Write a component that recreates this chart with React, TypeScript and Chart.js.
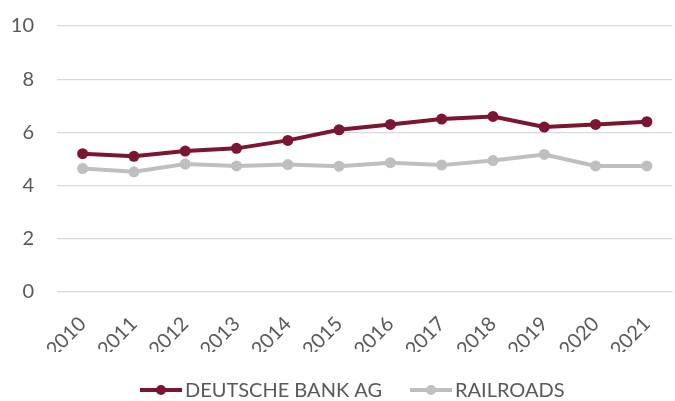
import React, { useEffect, useRef } from "react";
import { Chart, registerables } from "chart.js";

Chart.register(...registerables);

const years = ["2010", "2011", "2012", "2013", "2014", "2015", "2016", "2017", "2018", "2019", "2020", "2021"];
const deutscheBank = [5.2, 5.1, 5.3, 5.4, 5.7, 6.1, 6.3, 6.5, 6.6, 6.2, 6.3, 6.4];
const railroads = [4.64, 4.52, 4.81, 4.74, 4.79, 4.73, 4.86, 4.77, 4.94, 5.17, 4.74, 4.74];
const seriesNames = ["DEUTSCHE BANK AG", "RAILROADS"];
const seriesColors = ["#7B1530", "#BFBFBF"];
const yTicks = [0, 2, 4, 6, 8, 10];

const FONT = "Lato, 'Open Sans', sans-serif";
const TEXT = "#595959";
const FS = 20;

const legendPlugin = {
  id: "excelLegend",
  afterDraw(chart: any) {
    const ctx = chart.ctx;
    ctx.save();
    ctx.font = `${FS}px ${FONT}`;
    ctx.textBaseline = "middle";
    ctx.textAlign = "left";
    const y = 390;
    const lineW = 42;
    const starts = [140, 410];
    seriesNames.forEach((name, i) => {
      const x = starts[i];
      ctx.strokeStyle = seriesColors[i];
      ctx.lineWidth = 4;
      ctx.beginPath();
      ctx.moveTo(x, y);
      ctx.lineTo(x + lineW, y);
      ctx.stroke();
      ctx.fillStyle = seriesColors[i];
      ctx.beginPath();
      ctx.arc(x + lineW / 2, y, 5, 0, Math.PI * 2);
      ctx.fill();
      ctx.fillStyle = TEXT;
      ctx.fillText(name, x + lineW + 3, y + 1);
    });
    ctx.restore();
  },
};

export default function App() {
  const ref = useRef<HTMLCanvasElement | null>(null);
  useEffect(() => {
    document.body.style.margin = "0";
    if (!ref.current) return;
    const chart = new Chart(ref.current, {
      type: "line",
      data: {
        labels: years,
        datasets: [
          {
            label: seriesNames[1],
            data: railroads,
            borderColor: seriesColors[1],
            backgroundColor: seriesColors[1],
            borderWidth: 4,
            pointRadius: 5.5,
            pointHoverRadius: 5.5,
            pointBorderWidth: 0,
          },
          {
            label: seriesNames[0],
            data: deutscheBank,
            borderColor: seriesColors[0],
            backgroundColor: seriesColors[0],
            borderWidth: 4,
            pointRadius: 5.5,
            pointHoverRadius: 5.5,
            pointBorderWidth: 0,
          },
        ],
      },
      options: {
        animation: false,
        responsive: false,
        layout: { padding: { top: 26, bottom: 49, left: 0, right: 0 } },
        plugins: { legend: { display: false }, tooltip: { enabled: false } },
        scales: {
          x: {
            offset: true,
            grid: { display: false, drawTicks: false },
            border: { display: false },
            ticks: {
              color: TEXT,
              font: { family: FONT, size: FS },
              minRotation: 45,
              maxRotation: 45,
              padding: 20,
            },
            afterFit(scale: any) {
              scale.height = 60;
              scale.paddingLeft = 0;
              scale.paddingRight = 0;
            },
          },
          y: {
            min: 0,
            max: 10,
            afterBuildTicks(scale: any) {
              scale.ticks = yTicks.map((v) => ({ value: v }));
            },
            grid: { color: "#D9D9D9", lineWidth: 1.3, drawTicks: false },
            border: { display: false },
            ticks: {
              color: TEXT,
              font: { family: FONT, size: FS },
              padding: 23,
            },
            afterFit(scale: any) {
              scale.width = 57;
              scale.paddingTop = 0;
              scale.paddingBottom = 0;
            },
          },
        },
      },
      plugins: [legendPlugin],
    });
    return () => chart.destroy();
  }, []);
  return (
    <div style={{ width: 675, height: 401, overflow: "hidden", background: "#fff" }}>
      <canvas ref={ref} width={678} height={401} style={{ display: "block" }} />
    </div>
  );
}
